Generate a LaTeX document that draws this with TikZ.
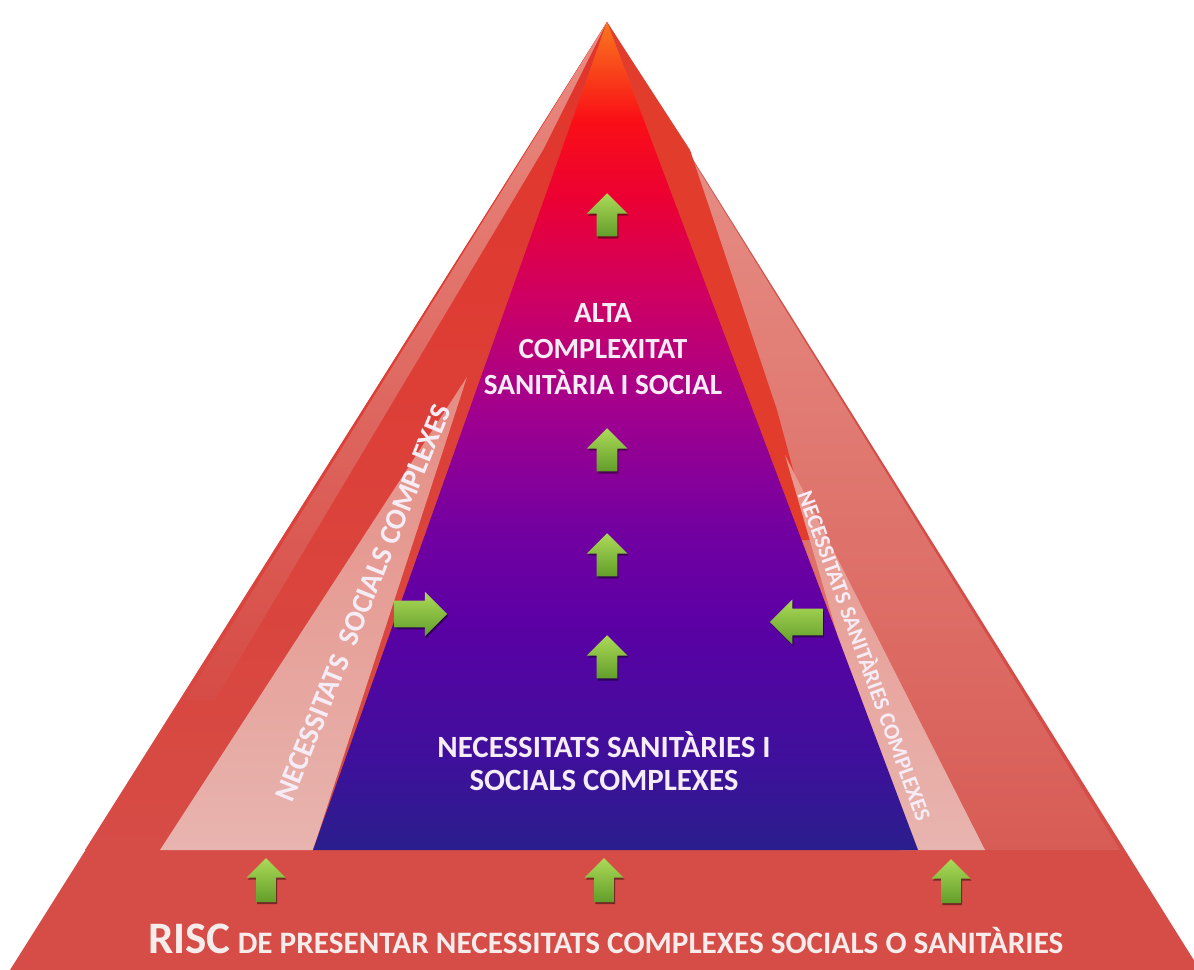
\documentclass[tikz,border=0pt]{standalone}
\usepackage{fontspec}
\setmainfont{Carlito}
\usetikzlibrary{shapes.arrows,shadows}
\definecolor{outerred}{RGB}{214,76,70}
\definecolor{lefttop}{RGB}{226,52,42}
\definecolor{lightstrip}{RGB}{234,150,140}
\definecolor{righttop}{RGB}{232,150,140}
\definecolor{rightbot}{RGB}{216,92,86}
\definecolor{redstrip}{RGB}{226,60,45}
\definecolor{paletop}{RGB}{228,140,130}
\definecolor{palebot}{RGB}{232,180,175}
\definecolor{ib0}{RGB}{42,30,140}
\definecolor{ib1}{RGB}{62,16,155}
\definecolor{ib2}{RGB}{92,0,165}
\definecolor{ib3}{RGB}{118,0,160}
\definecolor{ib4}{RGB}{165,0,140}
\definecolor{ib5}{RGB}{205,0,100}
\definecolor{ib6}{RGB}{235,0,52}
\definecolor{ib7}{RGB}{250,15,22}
\definecolor{ib8}{RGB}{248,120,30}
\definecolor{glight}{RGB}{172,218,88}
\definecolor{gdark}{RGB}{98,158,42}
\definecolor{txtcol}{RGB}{246,236,246}
\pgfdeclareverticalshading{innershade}{100bp}{color(0bp)=(ib0); color(25bp)=(ib0); color(30.45bp)=(ib1); color(38.9bp)=(ib2); color(44.95bp)=(ib3); color(52.15bp)=(ib4); color(58.2bp)=(ib5); color(64.25bp)=(ib6); color(69.1bp)=(ib7); color(75bp)=(ib8); color(100bp)=(ib8)}
\tikzset{
  garrow/.style={single arrow, draw=none, top color=glight, bottom color=gdark,
    drop shadow={shadow xshift=0.8pt, shadow yshift=-1.5pt, opacity=0.45, fill=black}},
  uparrow/.style={garrow, shape border rotate=90, inner sep=0.25cm, minimum height=1.08cm, minimum width=1cm, single arrow head extend=0.25cm},
  botarrow/.style={garrow, shape border rotate=90, inner sep=0.24cm, minimum height=1.1cm, minimum width=0.96cm, single arrow head extend=0.24cm},
  sidearrow/.style={garrow, inner sep=0.325cm, minimum height=1.32cm, minimum width=1.1cm, single arrow head extend=0.225cm},
  lbl/.style={text=txtcol, font=\bfseries, inner sep=0pt, align=center}
}
\begin{document}
\begin{tikzpicture}[x=0.025cm,y=-0.025cm]
\useasboundingbox (0,0) rectangle (1194,970);
\fill[white] (0,0) rectangle (1194,970);
\begin{scope}
\clip (0,0) rectangle (1194,970);
% outer pyramid
\fill[outerred] (607,22) -- (10,970) -- (1200,970) -- cycle;
% left face
\shade[top color=lefttop, bottom color=outerred] (607,22) -- (85,850) -- (313,850) -- cycle;
\shade[top color=lightstrip, bottom color=outerred, opacity=0.9] (607,22) -- (185,700) -- (215,700) -- (543,150) -- cycle;
% right face
\shade[top color=righttop, bottom color=rightbot] (607,22) -- (1120,850) -- (918,850) -- cycle;
\fill[redstrip] (607,22) -- (690,150) -- (777,410) -- (812,540) -- (801,540) -- cycle;
% pale side bands
\shade[top color=paletop, bottom color=palebot] (467,377) -- (160,850) -- (313,850) -- cycle;
\shade[top color=righttop, bottom color=palebot] (785,455) -- (985,850) -- (900,850) -- cycle;
% inner pyramid
\shade[shading=innershade] (607,22) -- (313,850) -- (918,850) -- cycle;
\end{scope}
% arrows
\node[uparrow] (a1) at (607,220) {};
\node[uparrow] (a2) at (607,455) {};
\node[uparrow] (a3) at (607,560) {};
\node[uparrow] (a4) at (607,662) {};
\node[sidearrow, shape border rotate=0] (a5) at (414,614) {};
\node[sidearrow, shape border rotate=180] (a6) at (803,622) {};
\node[botarrow] (a7) at (266,885) {};
\node[botarrow] (a8) at (604,885) {};
\node[botarrow] (a9) at (951,886) {};
% texts
\node[lbl, font=\bfseries\fontsize{20.8}{25.5}\selectfont] (alta) at (603,349) {ALTA\\COMPLEXITAT\\SANITÀRIA I SOCIAL};
\node[lbl, font=\bfseries\fontsize{22}{24}\selectfont] (nec) at (604,761) {NECESSITATS SANITÀRIES I\\SOCIALS COMPLEXES};
\node[lbl, font=\bfseries\fontsize{21}{21}\selectfont, rotate=68] (soc) at (363,603) {NECESSITATS\ \ SOCIALS COMPLEXES};
\node[lbl, font=\bfseries\fontsize{16}{16}\selectfont, rotate=-70] (san) at (866,655) {NECESSITATS\ SANITÀRIES\ COMPLEXES};
\node[lbl, anchor=base west, text={rgb,255:red,246;green,236;blue,236}] (risc) at (148,953) {\fontsize{32}{32}\selectfont RISC\fontsize{22.2}{24}\selectfont{} DE PRESENTAR NECESSITATS COMPLEXES SOCIALS O SANITÀRIES};
\end{tikzpicture}
\end{document}
